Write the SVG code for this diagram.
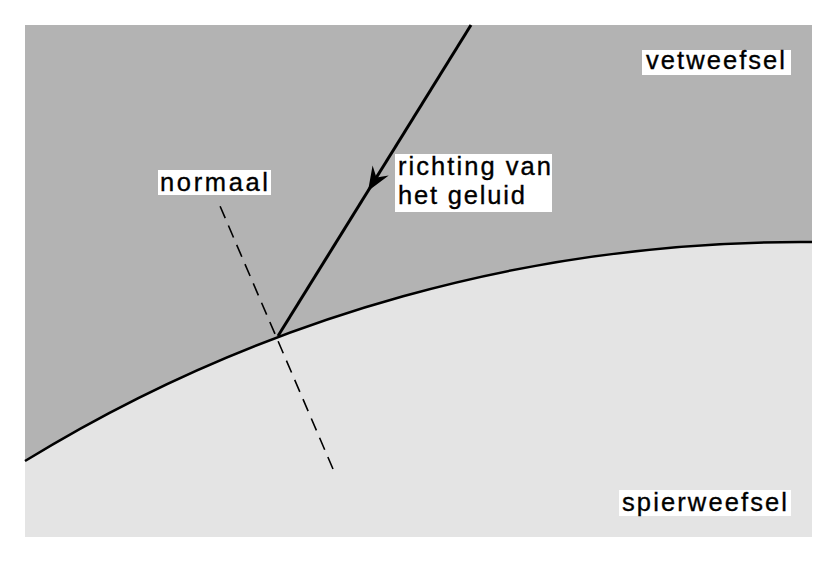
<svg xmlns="http://www.w3.org/2000/svg" width="837" height="562" viewBox="0 0 837 562">
  <style>
    .lbl { font-family: "Liberation Sans", Arial, sans-serif; font-size: 25.5px; fill: #000; stroke: #000; stroke-width: 0.35; }
    .box { fill: #fff; }
  </style>
  <rect x="0" y="0" width="837" height="562" fill="#fff"/>
  <g id="vetweefsel-region">
    <path d="M25,25 H812 V242 A1483,1483 0 0 0 25,461 Z" fill="#b3b3b3"/>
  </g>
  <g id="spierweefsel-region">
    <path d="M25,461 A1483,1483 0 0 1 812,242 V537 H25 Z" fill="#e4e4e4"/>
  </g>
  <g id="connectors">
    <path id="interface" d="M25,461 A1483,1483 0 0 1 812,242" fill="none" stroke="#000" stroke-width="2.5"/>
    <line id="normal" x1="333" y1="469" x2="217" y2="199" stroke="#000" stroke-width="1.6" stroke-dasharray="13 8"/>
    <line id="ray" x1="471" y1="25" x2="278" y2="336" stroke="#000" stroke-width="3"/>
    <path id="ray-arrow" d="M0,0 L-24,-9.5 L-16,0 L-24,9.5 Z" fill="#000" transform="translate(368,191) rotate(121.8)"/>
  </g>
  <g id="label-vetweefsel">
    <rect class="box" x="642" y="50" width="149" height="25"/>
    <text class="lbl" x="646" y="69" textLength="139" lengthAdjust="spacing">vetweefsel</text>
  </g>
  <g id="label-normaal">
    <rect class="box" x="158" y="170" width="113" height="25"/>
    <text class="lbl" x="160" y="191" textLength="108" lengthAdjust="spacing">normaal</text>
  </g>
  <g id="label-richting">
    <rect class="box" x="395" y="154" width="157" height="58"/>
    <text class="lbl" x="398" y="175" textLength="153" lengthAdjust="spacing">richting van</text>
    <text class="lbl" x="398" y="204" textLength="127" lengthAdjust="spacing">het geluid</text>
  </g>
  <g id="label-spierweefsel">
    <rect class="box" x="619" y="490" width="172" height="26"/>
    <text class="lbl" x="622" y="511" textLength="165" lengthAdjust="spacing">spierweefsel</text>
  </g>
</svg>
